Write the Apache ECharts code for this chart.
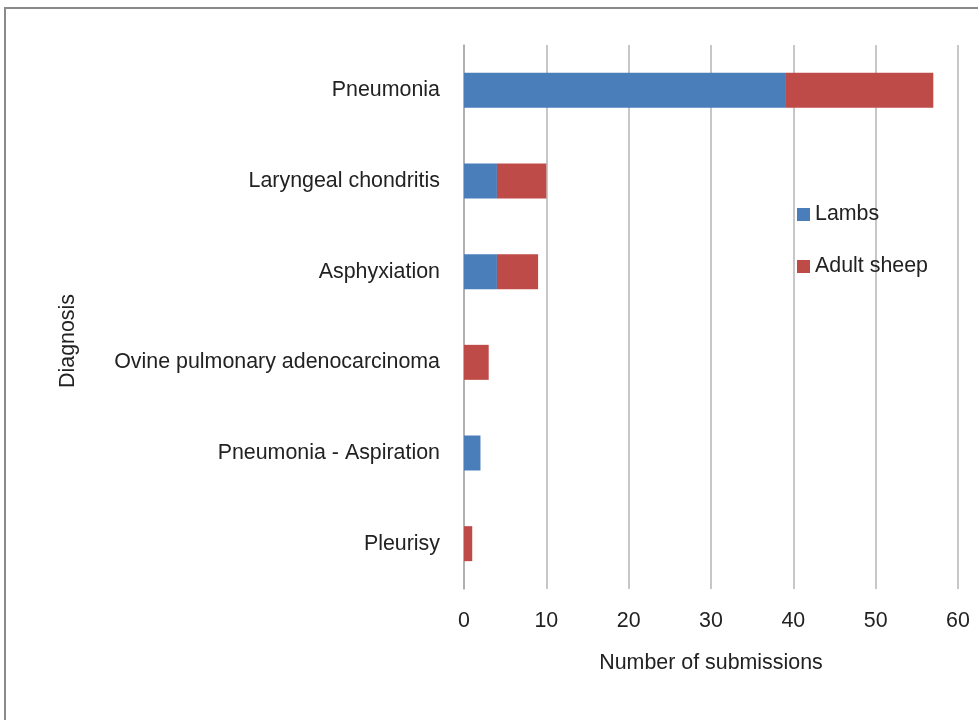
<!DOCTYPE html>
<html>
<head>
<meta charset="utf-8">
<script src="https://cdn.jsdelivr.net/npm/echarts@6/dist/echarts.min.js"></script>
<style>
  html, body { margin: 0; padding: 0; background: #fff; }
  #chart { width: 978px; height: 720px; }
</style>
</head>
<body>
<div id="chart"></div>
<script>
// categories listed bottom to top (category axis starts at the bottom)
const diagnoses = ['Pleurisy', 'Pneumonia - Aspiration', 'Ovine pulmonary adenocarcinoma', 'Asphyxiation', 'Laryngeal chondritis', 'Pneumonia']
const lambs = [0, 2, 0, 4, 4, 39]
const adultSheep = [1, 0, 3, 5, 6, 18]
const xTicks = [0, 10, 20, 30, 40, 50, 60]

const chart = echarts.init(document.getElementById('chart'))
const font = 'Liberation Sans, Arial, Helvetica, sans-serif'
const fs = 21.4

chart.setOption({
  animation: false,
  textStyle: { fontFamily: font },
  graphic: [
    {
      type: 'polyline',
      shape: { points: [[5, 720], [5, 8], [978, 8]] },
      style: { stroke: '#8a8a8a', lineWidth: 2, fill: null }
    },
    {
      // y axis title sits a little below the plot centre in the original
      type: 'text',
      x: 68,
      y: 341,
      rotation: Math.PI / 2,
      style: {
        text: 'Diagnosis',
        font: fs + 'px ' + font,
        fill: '#222',
        align: 'center',
        verticalAlign: 'middle'
      }
    }
  ],
  grid: { left: 464, right: 20, top: 45, bottom: 131 },
  legend: {
    orient: 'vertical',
    left: 792,
    top: 199,
    itemGap: 31,
    itemWidth: 13,
    itemHeight: 13,
    icon: 'rect',
    data: ['Lambs', 'Adult sheep'],
    textStyle: { fontSize: fs, color: '#222', fontFamily: font }
  },
  xAxis: {
    type: 'value',
    min: xTicks[0],
    max: xTicks[xTicks.length - 1],
    interval: 10,
    name: 'Number of submissions',
    nameLocation: 'middle',
    nameGap: 64,
    nameTextStyle: { fontSize: fs, color: '#222' },
    axisLine: { show: false },
    axisTick: { show: false },
    axisLabel: { fontSize: fs, color: '#222', margin: 22 },
    splitLine: { lineStyle: { color: '#b5b5b5', width: 1.5 } }
  },
  yAxis: {
    type: 'category',
    data: diagnoses,
    axisLine: { lineStyle: { color: '#a8a8a8', width: 1.5 } },
    axisTick: { length: 8, lineStyle: { color: '#a8a8a8', width: 1.5 } },
    axisLabel: { fontSize: fs, color: '#222', margin: 24 }
  },
  series: [
    {
      name: 'Lambs',
      type: 'bar',
      stack: 'total',
      barWidth: 35,
      data: lambs,
      itemStyle: { color: '#4a7ebb' }
    },
    {
      name: 'Adult sheep',
      type: 'bar',
      stack: 'total',
      barWidth: 35,
      data: adultSheep,
      itemStyle: { color: '#be4b48' }
    }
  ]
})
</script>
</body>
</html>
